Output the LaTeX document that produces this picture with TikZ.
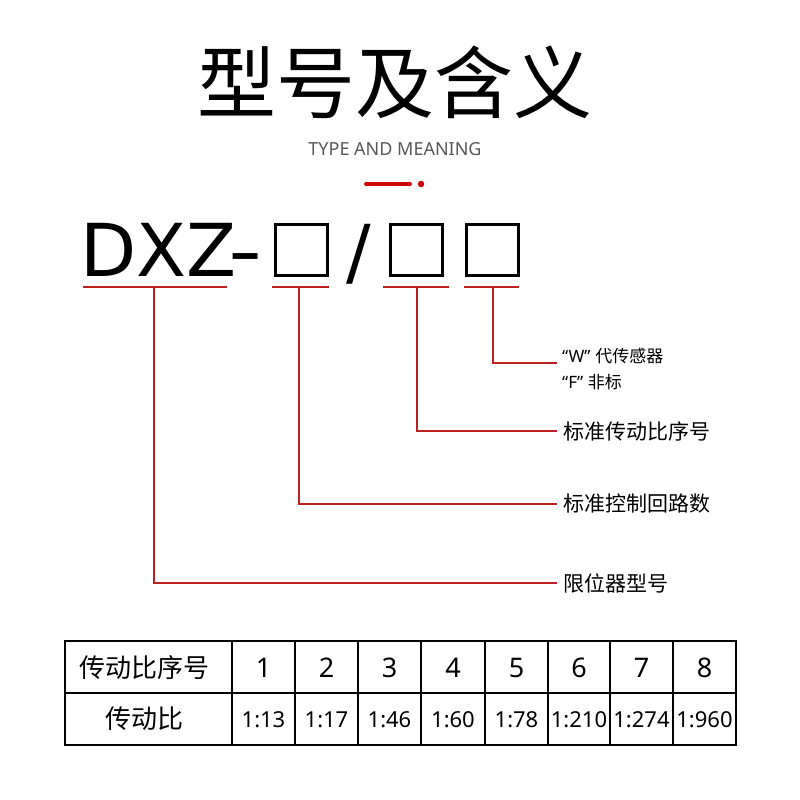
\documentclass[tikz,border=0pt]{standalone}
\usepackage{fontspec}
\setmainfont{Noto Sans}
\newfontfamily\cjk{Noto Sans CJK SC}
\newfontfamily\dvs{DejaVu Sans}
\definecolor{lnred}{RGB}{190,32,32}
\definecolor{dotred}{RGB}{204,0,0}
\begin{document}
\begin{tikzpicture}[x=1pt,y=-1pt,
  lab/.style={anchor=west,inner sep=0pt,font=\cjk\fontsize{21}{25}\selectfont},
  sub/.style={anchor=west,inner sep=0pt,font=\fontsize{17}{20}\selectfont},
  code/.style={inner sep=0pt,font=\dvs\fontsize{73}{80}\selectfont},
  redline/.style={draw=lnred,line width=1.6pt},
  phbox/.style={draw=black,line width=3pt,minimum width=52pt,minimum height=51pt,inner sep=0pt},
  cellhead/.style={inner sep=0pt,font=\cjk\fontsize{26}{30}\selectfont},
  cellnum/.style={inner sep=0pt,font=\fontsize{27}{32}\selectfont},
  cellrat/.style={inner sep=0pt,font=\fontsize{22}{27}\selectfont},
  grid/.style={draw=black,line width=1.6pt}]
\useasboundingbox (0,0) rectangle (800,800);
\fill[white] (0,0) rectangle (800,800);
% title
\node[inner sep=0pt,font=\cjk\fontsize{79}{90}\selectfont] (title) at (395,82) {型号及含义};
\node[inner sep=0pt,text=black!65,font=\fontsize{18}{22}\selectfont] (sub) at (395,149) {TYPE AND MEANING};
\draw[dotred,line width=4pt,line cap=round] (366,184) -- (410,184);
\fill[dotred] (421,184) circle (3.2);
% model code
\node[code,anchor=base west] (dxz) at (80,276) {DXZ};
\node[code,anchor=base,xscale=1.3] (hy) at (246,276) {-};
\node[phbox] (b1) at (301,249.5) {};
\node[code,anchor=base] (sl) at (359,277) {/};
\node[phbox] (b2) at (416.5,249.5) {};
\node[phbox] (b3) at (492.5,249.5) {};
% underlines
\coordinate (u1a) at (83,287); \coordinate (u1b) at (227,287); \coordinate (m1) at (154,287);
\coordinate (u2a) at (272,287); \coordinate (u2b) at (329,287); \coordinate (m2) at (299,287);
\coordinate (u3a) at (383,287); \coordinate (u3b) at (449,287); \coordinate (m3) at (417,287);
\coordinate (u4a) at (464,287); \coordinate (u4b) at (519,287); \coordinate (m4) at (493,287);
\draw[redline] (u1a) -- (u1b);
\draw[redline] (u2a) -- (u2b);
\draw[redline] (u3a) -- (u3b);
\draw[redline] (u4a) -- (u4b);
% labels
\node[sub] (lw) at (562,356) {“W”\;{\cjk 代传感器}};
\node[sub] (lf) at (562,382) {“F”\;{\cjk 非标}};
\node[lab] (l3) at (563,431) {标准传动比序号};
\node[lab] (l2) at (563,504) {标准控制回路数};
\node[lab] (l1) at (563,583) {限位器型号};
\coordinate (e4) at (557,363);
\draw[redline] (m4) |- (e4);
\draw[redline,shorten >=6pt] (m3) |- (l3.west);
\draw[redline,shorten >=6pt] (m2) |- (l2.west);
\draw[redline,shorten >=6pt] (m1) |- (l1.west);
% table
\draw[grid] (65,641) rectangle (736,745);
\draw[grid] (65,693) -- (736,693);
\foreach \x in {232,295,358,421,485,548,610,673} \draw[grid] (\x,641) -- (\x,745);
\node[cellhead] (h1) at (144.5,668) {传动比序号};
\node[cellhead] (h2) at (144.5,719) {传动比};
\foreach \n/\x in {1/263.5,2/326.5,3/389.5,4/453,5/516.5,6/579,7/641.5,8/704.5}
  \node[cellnum,anchor=base] (n\n) at (\x,677) {\n};
\foreach \r/\x/\k in {1:13/263.5/1,1:17/326.5/2,1:46/389.5/3,1:60/453/4,1:78/516.5/5,1:210/579/6,1:274/641.5/7,1:960/704.5/8}
  \node[cellrat,anchor=base] (r\k) at (\x,727) {\r};
\end{tikzpicture}
\end{document}
